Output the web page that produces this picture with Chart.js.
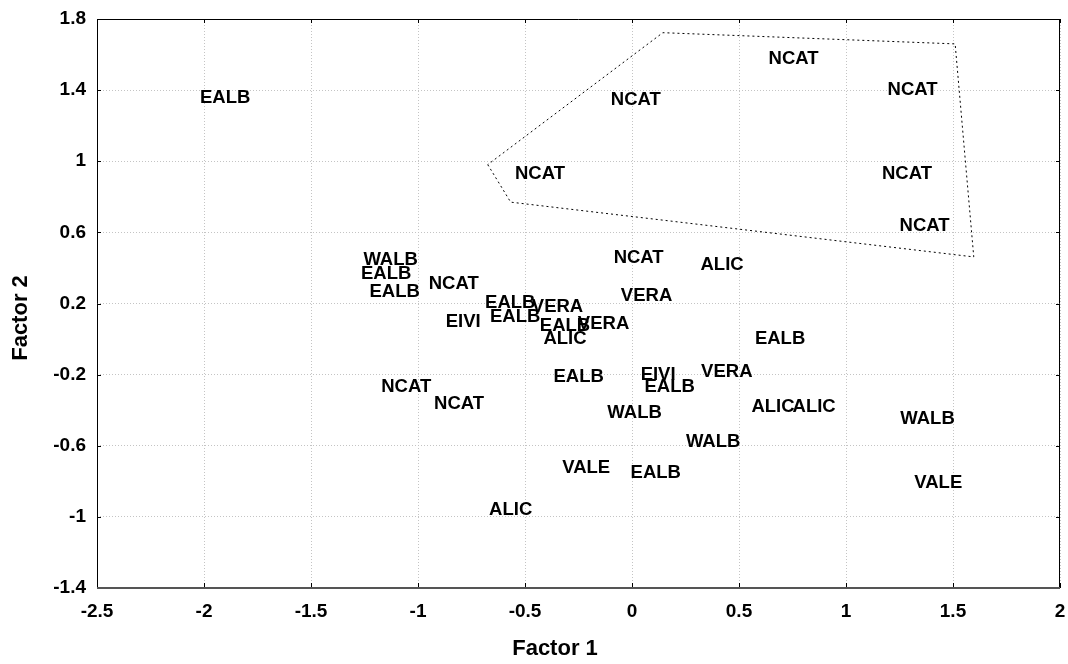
<!DOCTYPE html>
<html>
<head>
<meta charset="utf-8">
<script src="https://cdn.jsdelivr.net/npm/chart.js@4/dist/chart.umd.min.js"></script>
<style>
  html, body { margin: 0; padding: 0; background: #fff; }
  #wrap { width: 1068px; height: 664px; position: relative; }
</style>
</head>
<body>
<div id="wrap"><canvas id="plot"></canvas></div>
<script>
const FONT = "'Liberation Sans', Arial, Helvetica, sans-serif";

// sample group codes and their scores on the first two factors
const groups = [
  'EALB', 'WALB', 'EALB', 'EALB', 'NCAT', 'EALB', 'VERA', 'EIVI', 'EALB', 'EALB',
  'VERA', 'ALIC', 'NCAT', 'VERA', 'ALIC', 'EALB', 'EIVI', 'EALB', 'WALB', 'NCAT',
  'NCAT', 'EALB', 'VERA', 'ALIC', 'ALIC', 'WALB', 'WALB', 'EALB', 'VALE', 'VALE',
  'ALIC', 'NCAT', 'NCAT', 'NCAT', 'NCAT', 'NCAT', 'NCAT'
];
const factor1 = [
  -1.901, -1.128, -1.149, -1.109, -0.833, -0.569, -0.348, -0.789, -0.546, -0.313,
  -0.133, -0.313,  0.031,  0.068,  0.421, -0.249,  0.122,  0.176,  0.012, -1.055,
  -0.808,  0.692,  0.443,  0.659,  0.851,  1.381,  0.379,  0.111,  1.431, -0.214,
  -0.567,  0.755,  1.311,  0.018, -0.430,  1.285,  1.367
];
const factor2 = [
   1.366,  0.455,  0.376,  0.276,  0.320,  0.213,  0.191,  0.106,  0.134,  0.084,
   0.095,  0.011,  0.467,  0.253,  0.427, -0.203, -0.192, -0.259, -0.405, -0.259,
  -0.355,  0.011, -0.175, -0.372, -0.372, -0.440, -0.569, -0.743, -0.799, -0.715,
  -0.951,  1.586,  1.410,  1.356,  0.939,  0.939,  0.645
];

// outline around the NCAT cluster (closed back to the first vertex)
const hullX = [-0.674, -0.567, 1.597, 1.510, 0.144, -0.674];
const hullY = [ 0.981,  0.770, 0.462, 1.660, 1.723,  0.981];

const xTicks = [-2.5, -2, -1.5, -1, -0.5, 0, 0.5, 1, 1.5, 2];
const yTicks = [-1.4, -1, -0.6, -0.2, 0.2, 0.6, 1, 1.4, 1.8];

const xTitle = 'Factor 1';
const yTitle = 'Factor 2';

const fmt = (v) => String(+Number(v).toFixed(1));

// group codes written at each point instead of markers,
// capitals centred vertically on the point
const LABEL_PX = 18.5;
const pointText = {
  id: 'pointText',
  afterDatasetsDraw(chart) {
    const ctx = chart.ctx;
    const meta = chart.getDatasetMeta(0);
    const half = LABEL_PX * 0.716 / 2;
    ctx.save();
    ctx.font = `bold ${LABEL_PX}px ${FONT}`;
    ctx.fillStyle = '#000';
    ctx.textAlign = 'center';
    ctx.textBaseline = 'alphabetic';
    meta.data.forEach((pt, i) => ctx.fillText(groups[i], pt.x, pt.y + half));
    ctx.restore();
  }
};

// box around the plot, inward tick marks, axis titles
const frame = {
  id: 'frame',
  afterDraw(chart) {
    const ctx = chart.ctx;
    const { left, right, top, bottom } = chart.chartArea;
    const sx = chart.scales.x, sy = chart.scales.y;
    ctx.save();
    ctx.strokeStyle = '#000';
    ctx.lineWidth = 1;
    ctx.beginPath();
    ctx.moveTo(left + 0.5, bottom);
    ctx.lineTo(left + 0.5, top + 0.5);
    ctx.lineTo(right - 0.5, top + 0.5);
    ctx.lineTo(right - 0.5, bottom);
    xTicks.forEach(v => {
      const px = Math.round(sx.getPixelForValue(v)) + 0.5;
      ctx.moveTo(px, top); ctx.lineTo(px, top + 4);
      ctx.moveTo(px, bottom); ctx.lineTo(px, bottom - 5);
    });
    yTicks.forEach(v => {
      const py = Math.round(sy.getPixelForValue(v)) + 0.5;
      ctx.moveTo(left, py); ctx.lineTo(left + 4, py);
      ctx.moveTo(right, py); ctx.lineTo(right - 4, py);
    });
    ctx.stroke();

    ctx.strokeStyle = '#555';
    ctx.lineWidth = 2;
    ctx.beginPath();
    ctx.moveTo(left, bottom);
    ctx.lineTo(right, bottom);
    ctx.stroke();

    ctx.fillStyle = '#000';
    ctx.font = `bold 22px ${FONT}`;
    ctx.textAlign = 'center';
    ctx.textBaseline = 'middle';
    ctx.fillText(xTitle, 555, 649);
    ctx.translate(21, 318);
    ctx.rotate(-Math.PI / 2);
    ctx.fillText(yTitle, 0, 0);
    ctx.restore();
  }
};

const tickFont = { family: FONT, size: 19, weight: 'bold' };

new Chart(document.getElementById('plot'), {
  type: 'scatter',
  data: {
    datasets: [
      {
        label: 'scores',
        data: factor1.map((x, i) => ({ x, y: factor2[i] })),
        pointRadius: 0,
        pointHoverRadius: 0
      },
      {
        label: 'hull',
        data: hullX.map((x, i) => ({ x, y: hullY[i] })),
        showLine: true,
        borderColor: '#000',
        borderWidth: 1,
        borderDash: [2, 3],
        pointRadius: 0,
        pointHoverRadius: 0,
        fill: false,
        tension: 0
      }
    ]
  },
  options: {
    responsive: true,
    maintainAspectRatio: false,
    animation: false,
    events: [],
    layout: { padding: { top: 19, right: 8, bottom: 0, left: 0 } },
    plugins: { legend: { display: false }, tooltip: { enabled: false } },
    scales: {
      x: {
        type: 'linear',
        min: -2.5, max: 2,
        afterBuildTicks: s => { s.ticks = xTicks.map(v => ({ value: v })); },
        afterFit: s => { s.height = 76; s.paddingLeft = 0; s.paddingRight = 0; },
        ticks: { font: tickFont, color: '#000', padding: 12, callback: fmt, maxRotation: 0, autoSkip: false },
        grid: { color: '#c4c4c4', lineWidth: 1, drawTicks: false },
        border: { display: false, dash: [1, 2] }
      },
      y: {
        type: 'linear',
        min: -1.4, max: 1.8,
        afterBuildTicks: s => { s.ticks = yTicks.map(v => ({ value: v })); },
        afterFit: s => { s.width = 97; s.paddingTop = 0; s.paddingBottom = 0; },
        ticks: { font: tickFont, color: '#000', padding: 11, callback: fmt, autoSkip: false },
        grid: { color: '#c4c4c4', lineWidth: 1, drawTicks: false },
        border: { display: false, dash: [1, 2] }
      }
    }
  },
  plugins: [pointText, frame]
});
</script>
</body>
</html>
